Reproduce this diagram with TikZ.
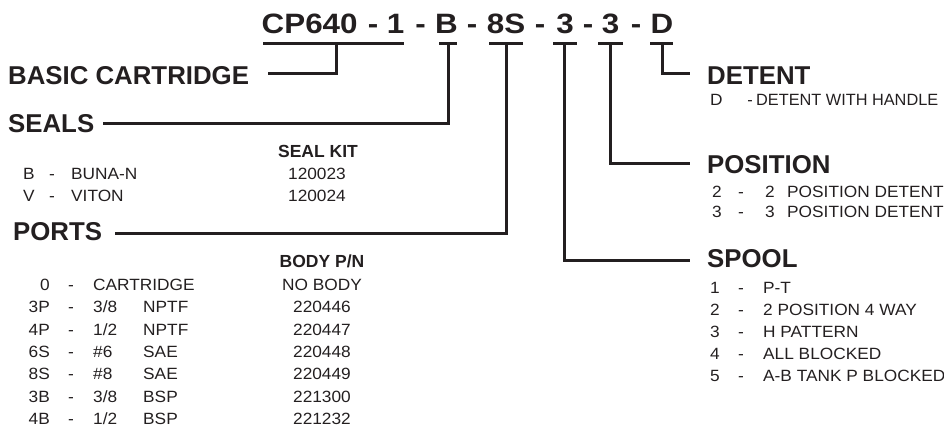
\documentclass[tikz,border=0pt]{standalone}
\usepackage{fontspec}
\setmainfont{Liberation Sans}
\newfontfamily\bodyf[FakeStretch=1.06]{Liberation Sans}
\newfontfamily\titlef[FakeStretch=1.12]{Liberation Sans}
\definecolor{ink}{RGB}{35,31,32}
\tikzset{
  ttl/.style={inner sep=0pt, text=ink, font=\titlef\fontsize{28}{30}\selectfont\bfseries},
  hdr/.style={inner sep=0pt, text=ink, font=\fontsize{25.8}{28}\selectfont\bfseries},
  sub/.style={inner sep=0pt, text=ink, font=\fontsize{17.5}{20}\selectfont\bfseries},
  txt/.style={inner sep=0pt, text=ink, font=\bodyf\fontsize{16.3}{19}\selectfont},
  txtn/.style={inner sep=0pt, text=ink, font=\fontsize{16.3}{19}\selectfont},
  uline/.style={draw=ink, line width=3pt},
  conn/.style={draw=ink, line width=3pt}
}
\begin{document}
\begin{tikzpicture}[x=1pt,y=-1pt]
\useasboundingbox (0,0) rectangle (944,424);
% title tokens
\node[ttl,anchor=base west] (tcp) at (261.5,33.5) {CP640};
\node[ttl,anchor=base] (td1) at (373,33.5) {-};
\node[ttl,anchor=base] (tone) at (395.5,33.5) {1};
\node[ttl,anchor=base] (td2) at (420.5,33.5) {-};
\node[ttl,anchor=base] (tB) at (446.5,33.5) {B};
\node[ttl,anchor=base] (td3) at (472,33.5) {-};
\node[ttl,anchor=base] (t8S) at (506,33.5) {8S};
\node[ttl,anchor=base] (td4) at (540,33.5) {-};
\node[ttl,anchor=base] (t3a) at (565,33.5) {3};
\node[ttl,anchor=base] (td5) at (588,33.5) {-};
\node[ttl,anchor=base] (t3b) at (610.5,33.5) {3};
\node[ttl,anchor=base] (td6) at (636,33.5) {-};
\node[ttl,anchor=base] (tD) at (662,33.5) {D};
% underlines
\draw[uline] (263,43) -- (404,43);
\draw[uline] (439,43) -- (457,43);
\draw[uline] (489,43) -- (523,43);
\draw[uline] (553,43) -- (577,43);
\draw[uline] (598,43) -- (623,43);
\draw[uline] (650,43) -- (673,43);
% connector coordinates
\coordinate (uBasic) at (336,43);
\coordinate (uSeals) at (448,43);
\coordinate (uPorts) at (506,43);
\coordinate (uSpool) at (564,43);
\coordinate (uPos) at (610,43);
\coordinate (uDet) at (662,43);
\coordinate (eBasic) at (268,73);
\coordinate (eSeals) at (103,123);
\coordinate (ePorts) at (115,233);
\coordinate (eSpool) at (690,260);
\coordinate (ePos) at (690,163);
\coordinate (eDet) at (690,73);
\draw[conn] (uBasic) |- (eBasic);
\draw[conn] (uSeals) |- (eSeals);
\draw[conn] (uPorts) |- (ePorts);
\draw[conn] (uSpool) |- (eSpool);
\draw[conn] (uPos) |- (ePos);
\draw[conn] (uDet) |- (eDet);
% left headers
\node[hdr,anchor=base west] (hBasic) at (8,84) {BASIC CARTRIDGE};
\node[hdr,anchor=base west] (hSeals) at (8,132) {SEALS};
\node[hdr,anchor=base west] (hPorts) at (13,240) {PORTS};
% right headers
\node[hdr,anchor=base west] (hDet) at (707,84) {DETENT};
\node[hdr,anchor=base west] (hPos) at (707,173) {POSITION};
\node[hdr,anchor=base west] (hSpool) at (707,267) {SPOOL};
% detent
\node[txt,anchor=base west] (dC) at (710,105) {D};
\node[txtn,anchor=base] (dD) at (750,105) {-};
\node[txtn,anchor=base west] (dT) at (756,105) {DETENT WITH HANDLE};
% position
\node[txt,anchor=base west] (p2n) at (712,197) {2};
\node[txt,anchor=base] (p2d) at (741,197) {-};
\node[txt,anchor=base west] (p2a) at (765,197) {2};
\node[txt,anchor=base west] (p2t) at (787,197) {POSITION DETENT};
\node[txt,anchor=base west] (p3n) at (712,217) {3};
\node[txt,anchor=base] (p3d) at (741,217) {-};
\node[txt,anchor=base west] (p3a) at (765,217) {3};
\node[txt,anchor=base west] (p3t) at (787,217) {POSITION DETENT};
% spool
\foreach \n/\t/\y in {1/P-T/293, 2/2 POSITION 4 WAY/315, 3/H PATTERN/337, 4/ALL BLOCKED/359, 5/A-B TANK P BLOCKED/381}{
  \node[txt,anchor=base west] (s\n n) at (710,\y) {\n};
  \node[txt,anchor=base] (s\n d) at (741,\y) {-};
  \node[txt,anchor=base west] (s\n t) at (763,\y) {\t};
}
% seals table
\node[sub,anchor=base] (sk) at (318,157) {SEAL KIT};
\node[txt,anchor=base west] (sBn) at (23,179) {B};
\node[txt,anchor=base] (sBd) at (52,179) {-};
\node[txt,anchor=base west] (sBt) at (71,179) {BUNA-N};
\node[txt,anchor=base] (sBk) at (317,179) {120023};
\node[txt,anchor=base west] (sVn) at (23,201) {V};
\node[txt,anchor=base] (sVd) at (52,201) {-};
\node[txt,anchor=base west] (sVt) at (71,201) {VITON};
\node[txt,anchor=base] (sVk) at (317,201) {120024};
% ports table
\node[sub,anchor=base] (bp) at (322,267) {BODY P/N};
\node[txt,anchor=base east] (r0c) at (50,290) {0};
\node[txt,anchor=base] (r0d) at (71,290) {-};
\node[txt,anchor=base west] (r0t) at (93,290) {CARTRIDGE};
\node[txt,anchor=base] (r0b) at (322,290) {NO BODY};
\foreach \c/\s/\ty/\b/\y in {3P/3\slash 8/NPTF/220446/312.7, 4P/1\slash 2/NPTF/220447/335, 6S/\#6/SAE/220448/357.3, 8S/\#8/SAE/220449/379.6, 3B/3\slash 8/BSP/221300/402, 4B/1\slash 2/BSP/221232/424}{
  \node[txt,anchor=base east] (r\c c) at (50,\y) {\c};
  \node[txt,anchor=base] (r\c d) at (71,\y) {-};
  \node[txt,anchor=base west] (r\c s) at (93,\y) {\s};
  \node[txt,anchor=base west] (r\c t) at (143,\y) {\ty};
  \node[txt,anchor=base] (r\c b) at (322,\y) {\b};
}
\end{tikzpicture}
\end{document}
